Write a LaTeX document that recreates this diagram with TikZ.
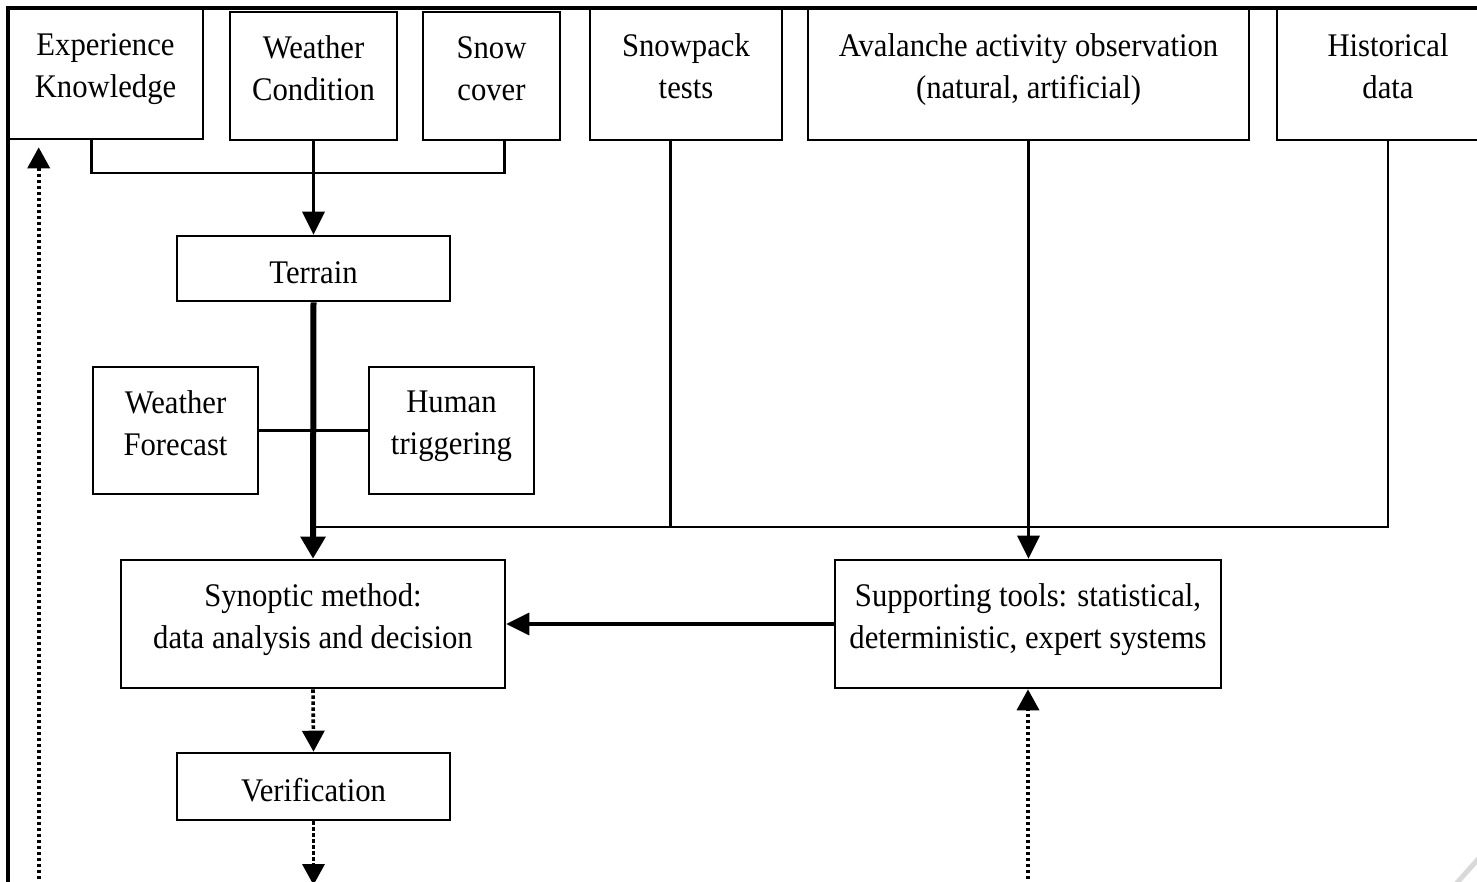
\documentclass[tikz,border=0pt]{standalone}
\usepackage{fontspec}
\setmainfont{Liberation Serif}[FakeStretch=0.93]
\usetikzlibrary{arrows.meta,calc}
\begin{document}
\begin{tikzpicture}[x=1pt,y=-1pt,
  box/.style={draw, line width=2.6pt, inner sep=0pt, align=center,
    font=\fontsize{33}{42}\selectfont},
  two/.style={text depth=15pt},
  one/.style={text height=30pt, text depth=0pt},
  link/.style={line width=2.6pt},
  arr/.style={line width=3.4pt, -{Triangle[length=23pt,width=22pt]}},
  thickarr/.style={line width=6pt, -{Triangle[length=22pt,width=24pt]}},
  dotarr/.style={line width=3.6pt, dash pattern=on 3.5pt off 2.5pt, -{Triangle[length=21pt,width=22pt]}},
  frame/.style={line width=4pt}]
\clip (0,0) rectangle (1477,881);
\fill[white] (0,0) rectangle (1477,881);
% top row
\node[box, two, minimum width=195pt, minimum height=131pt] (EK) at (105.5,73.5) {Experience\\Knowledge};
\node[box, two, minimum width=167pt, minimum height=128pt] (WC) at (313.5,76) {Weather\\Condition};
\node[box, two, minimum width=137pt, minimum height=128pt] (SC) at (491.5,76) {Snow\\cover};
\node[box, two, minimum width=192pt, minimum height=132pt] (ST) at (686,74) {Snowpack\\tests};
\node[box, two, minimum width=441pt, minimum height=132pt] (AA) at (1028.5,74) {Avalanche activity observation\\(natural, artificial)};
\node[box, two, minimum width=222pt, minimum height=132pt] (HD) at (1388,74) {Historical\\data};
% middle
\node[box, one, minimum width=273pt, minimum height=65pt] (TR) at (313.5,268.5) {Terrain};
\node[box, two, minimum width=165pt, minimum height=127pt] (WF) at (175.5,430.5) {Weather\\Forecast};
\node[box, two, minimum width=165pt, minimum height=127pt] (HT) at (451.5,430.5) {Human\\triggering};
\node[box, two, minimum width=384pt, minimum height=128pt] (SM) at (313,624) {Synoptic method:\\data analysis and decision};
\node[box, two, minimum width=386pt, minimum height=128pt] (SUP) at (1028,624) {Supporting tools: statistical,\\deterministic, expert systems};
\node[box, one, minimum width=273pt, minimum height=67pt] (VER) at (313.5,786.5) {Verification};
% frame
\draw[frame] (1480,7.5) -- (8,7.5) -- (8,885);
% helper coordinates
\coordinate (barY) at (0,173);
\coordinate (colY) at (0,527);
\coordinate (bot) at (0,885);
\coordinate (ekb) at ([xshift=85pt]EK.south west);
\coordinate (scb) at ([xshift=83pt]SC.south west);
\coordinate (stb) at ([xshift=82pt]ST.south west);
\coordinate (eka) at ([xshift=32pt,yshift=-7pt]EK.south west);
% bracket under top-left boxes
\draw[link] (ekb) -- (ekb |- barY) -- (scb |- barY) -- (scb);
% main flow
\draw[arr] (WC.south) -- (TR.north);
\draw[thickarr] (TR.south) -- (SM.north);
\draw[link] (WF.east) -- (HT.west);
% collector
\draw[link] (stb) |- (TR.south |- colY);
\draw[link] (HD.south) |- (stb |- colY);
\draw[arr] (AA.south) -- (AA.south |- SUP.north);
\draw[arr] (SUP.west) -- (SM.east);
% dotted
\draw[dotarr] (SM.south) -- (VER.north);
\draw[dotarr] (VER.south) -- (VER.south |- bot);
\draw[dotarr] (eka |- bot) -- (eka);
\draw[dotarr] (SUP.south |- bot) -- (SUP.south);
% page curl shadow
\draw[gray!30, line width=5pt] (1455,885) -- (1480,857);
\end{tikzpicture}
\end{document}
